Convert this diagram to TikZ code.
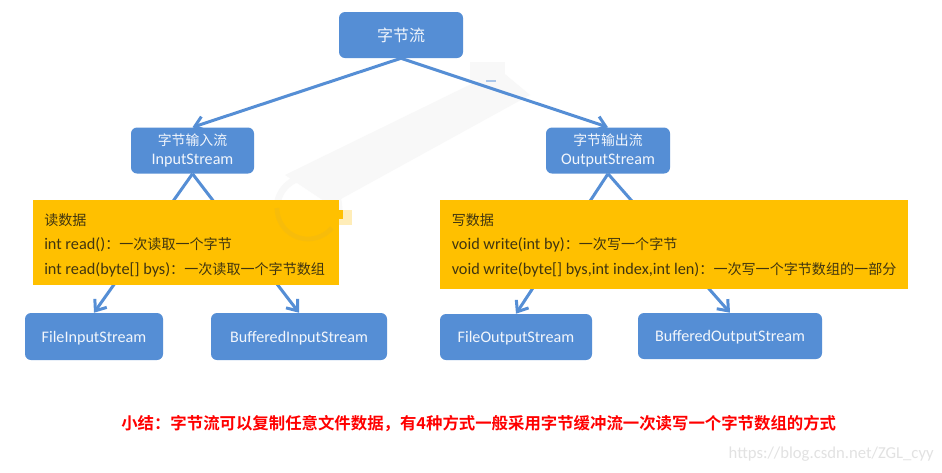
\documentclass[tikz,border=0pt]{standalone}
\usepackage{fontspec}
\setmainfont{Carlito}
\newfontfamily\cjk{Noto Sans CJK SC}
\newfontfamily\cjkb{Noto Sans CJK SC Bold}
\usetikzlibrary{arrows.meta}
\definecolor{boxblue}{HTML}{558ED5}
\definecolor{boxyellow}{HTML}{FFC000}
\definecolor{boxtext}{HTML}{F2F6FC}
\definecolor{yellowtext}{HTML}{403510}
\definecolor{wmgray}{HTML}{E2E2E2}
\definecolor{wmlight}{HTML}{F8F8F8}
\definecolor{yellowmark}{HTML}{F7BC0A}
\definecolor{yellowpale}{HTML}{FFEDB8}
\definecolor{dashblue}{HTML}{A9C6EA}
\tikzset{
  x=0.75pt,y=-0.75pt,
  bluebox/.style={fill=boxblue,rounded corners=4.5pt,inner sep=0pt,text=boxtext,align=center,font=\fontsize{12.1pt}{16pt}\selectfont},
  yellowbox/.style={fill=boxyellow,inner sep=0pt},
  yellowline/.style={anchor=west,inner sep=0pt,text=yellowtext,font=\fontsize{12.2pt}{13pt}\selectfont},
  link/.style={draw=boxblue,line width=2.25pt,-{Straight Barb[length=7pt,width=11pt,line width=2.25pt]}},
}
\newcommand{\ycjk}[1]{{\cjk\fontsize{10.55pt}{13pt}\selectfont #1}}
\begin{document}
\begin{tikzpicture}
\useasboundingbox (0,0) rectangle (942,472);
\fill[white] (0,0) rectangle (942,472);
% faint background watermark
\fill[wmlight] (285,175) -- (500,70) -- (530,95) -- (330,205) -- cycle;
\fill[wmlight] (470,62) rectangle (505,80);
\draw[wmlight,line width=5pt] (308,208) circle[radius=31];
\draw[dashblue,line width=1pt] (486,81) -- (496,81);
% nodes
\node[bluebox,minimum width=93pt,minimum height=34.5pt,font=\fontsize{12pt}{14pt}\selectfont] (top) at (401,35) {\cjk 字节流};
\node[bluebox,minimum width=92.25pt,minimum height=34.5pt,font=\fontsize{10.4pt}{14pt}\selectfont] (input) at (192.5,150.5) {{\cjk 字节输入流}\\{\fontsize{12.1pt}{14pt}\selectfont InputStream}};
\node[bluebox,minimum width=93pt,minimum height=34.5pt,font=\fontsize{10.4pt}{14pt}\selectfont] (output) at (608,150.5) {{\cjk 字节输出流}\\{\fontsize{12.1pt}{14pt}\selectfont OutputStream}};
\node[bluebox,text depth=0pt,minimum width=103.5pt,minimum height=35.25pt] (fin) at (94,336.5) {FileInputStream};
\node[bluebox,text depth=0pt,minimum width=132pt,minimum height=35.25pt] (bin) at (299,336.5) {BufferedInputStream};
\node[bluebox,text depth=0pt,minimum width=114pt,minimum height=34.5pt] (fout) at (516,337) {FileOutputStream};
\node[bluebox,text depth=0pt,minimum width=138pt,minimum height=34.5pt] (bout) at (730,336) {BufferedOutputStream};
% connectors
\draw[link] (top.south) -- (input.north);
\draw[link] (top.south) -- (output.north);
\draw[link] (input.south) -- (fin.north);
\draw[link] (input.south) -- (bin.north);
\draw[link] (output.south) -- (fout.north);
\draw[link] (output.south) -- (bout.north);
% yellow panels over the connectors
\node[yellowbox,minimum width=229.5pt,minimum height=63.75pt] (readbox) at (186,242.5) {};
\node[yellowbox,minimum width=351pt,minimum height=66.75pt] (writebox) at (674,244.5) {};
\fill[yellowpale] (339,210) rectangle (352,225);
\fill[boxyellow] (339,210) rectangle (343,219);
\draw[yellowmark,line width=3.5pt] (277,208) arc[start angle=180,end angle=40,radius=31];
\node[yellowline] (r1) at (44,220) {\ycjk{读数据}};
\node[yellowline] (r2) at (44,244.5) {int read()\ycjk{：一次读取一个字节}};
\node[yellowline] (r3) at (44,270) {int read(byte[] bys)\ycjk{：一次读取一个字节数组}};
\node[yellowline] (w1) at (451.5,220) {\ycjk{写数据}};
\node[yellowline] (w2) at (451.5,244.5) {void write(int by)\ycjk{：一次写一个字节}};
\node[yellowline] (w3) at (451.5,270) {void write(byte[] bys,int index,int len)\ycjk{：一次写一个字节数组的一部分}};
% summary and address
\node[anchor=west,inner sep=0pt,text=red,font=\fontsize{12.3pt}{14pt}\selectfont] (sum) at (121,424) {\cjkb 小结：字节流可以复制任意文件数据，有4种方式一般采用字节缓冲流一次读写一个字节数组的方式};
\node[anchor=east,inner sep=0pt,text=wmgray,font=\fontsize{12.5pt}{14pt}\selectfont] (mark) at (934,454) {https://blog.csdn.net/ZGL\_cyy};
\end{tikzpicture}
\end{document}
